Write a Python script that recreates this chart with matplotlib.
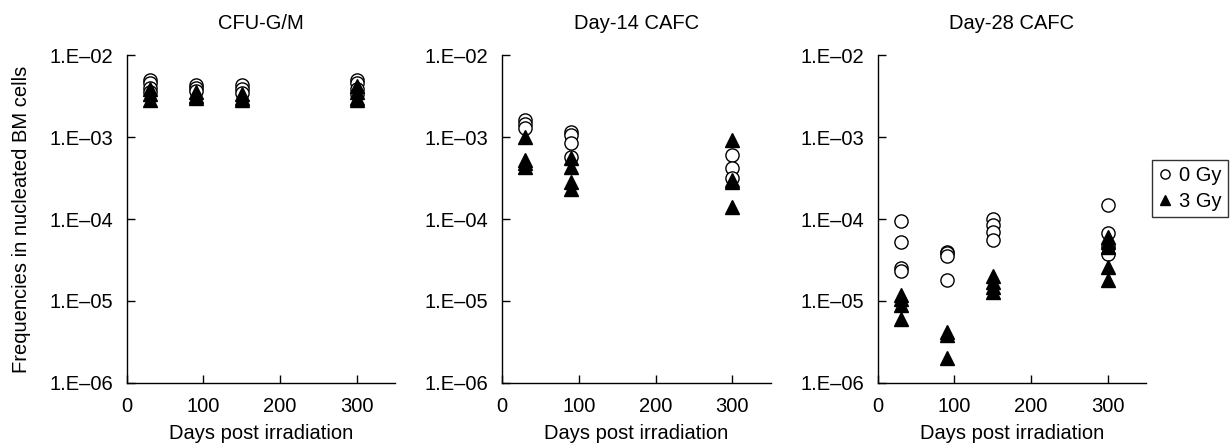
import math
import matplotlib
matplotlib.use("Agg")
import matplotlib.pyplot as plt
from matplotlib.ticker import FixedLocator, FuncFormatter, NullLocator

plt.rcParams['font.family'] = ['Liberation Sans', 'DejaVu Sans']
plt.rcParams['font.size'] = 14.5

# days post irradiation and frequencies per mouse, 0 Gy vs 3 Gy
cfu_days_0 = [30, 30, 30, 30, 90, 90, 90, 150, 150, 150, 300, 300, 300, 300]
cfu_vals_0 = [5.0e-3, 4.5e-3, 4.0e-3, 3.5e-3, 4.3e-3, 4.0e-3, 3.6e-3,
              4.3e-3, 3.8e-3, 3.4e-3, 5.0e-3, 4.5e-3, 3.8e-3, 3.3e-3]
cfu_days_3 = [30, 30, 30, 90, 90, 90, 150, 150, 150, 300, 300, 300, 300]
cfu_vals_3 = [3.8e-3, 3.3e-3, 2.8e-3, 3.5e-3, 3.2e-3, 3.0e-3,
              3.3e-3, 3.0e-3, 2.8e-3, 4.2e-3, 3.5e-3, 3.0e-3, 2.8e-3]

d14_days_0 = [30, 30, 30, 90, 90, 90, 90, 300, 300, 300]
d14_vals_0 = [1.6e-3, 1.45e-3, 1.3e-3, 1.15e-3, 1.05e-3, 8.4e-4, 5.7e-4,
              6.0e-4, 4.2e-4, 3.2e-4]
d14_days_3 = [30, 30, 30, 30, 90, 90, 90, 90, 300, 300, 300, 300]
d14_vals_3 = [1.0e-3, 5.3e-4, 4.8e-4, 4.3e-4, 5.5e-4, 4.3e-4, 2.8e-4, 2.3e-4,
              9.2e-4, 3.0e-4, 2.8e-4, 1.4e-4]

d28_days_0 = [30, 30, 30, 30, 90, 90, 90, 90, 150, 150, 150, 150,
              300, 300, 300, 300]
d28_vals_0 = [9.5e-5, 5.2e-5, 2.5e-5, 2.3e-5, 4.0e-5, 3.8e-5, 3.5e-5, 1.8e-5,
              1.0e-4, 8.5e-5, 7.0e-5, 5.5e-5, 1.5e-4, 6.7e-5, 4.7e-5, 3.7e-5]
d28_days_3 = [30, 30, 30, 30, 90, 90, 90, 150, 150, 150, 150,
              300, 300, 300, 300, 300]
d28_vals_3 = [1.2e-5, 1.05e-5, 9.0e-6, 6.0e-6, 4.2e-6, 3.8e-6, 2.0e-6,
              2.0e-5, 1.7e-5, 1.5e-5, 1.3e-5, 6.0e-5, 5.2e-5, 4.5e-5,
              2.6e-5, 1.8e-5]

titles = ["CFU-G/M", "Day-14 CAFC", "Day-28 CAFC"]
panels = [
    (cfu_days_0, cfu_vals_0, cfu_days_3, cfu_vals_3),
    (d14_days_0, d14_vals_0, d14_days_3, d14_vals_3),
    (d28_days_0, d28_vals_0, d28_days_3, d28_vals_3),
]
x_ticks = [0, 100, 200, 300]
y_ticks = [1e-6, 1e-5, 1e-4, 1e-3, 1e-2]


def sci_label(v, pos):
    exp = int(round(math.log10(v)))
    return "1.E\u2013%02d" % abs(exp)


fig = plt.figure(figsize=(12.31, 4.44), dpi=100)
lefts = [0.103, 0.408, 0.713]
for i, left in enumerate(lefts):
    ax = fig.add_axes([left, 0.1374, 0.218, 0.7387])
    d0, v0, d3, v3 = panels[i]
    ax.plot(d0, v0, linestyle="none", marker="o", ms=9.5, mfc="white",
            mec="black", mew=1.0, label="0 Gy", zorder=3)
    ax.plot(d3, v3, linestyle="none", marker="^", ms=9.5, mfc="black",
            mec="black", label="3 Gy", zorder=4)
    ax.set_yscale("log")
    ax.set_ylim(1e-6, 1e-2)
    ax.set_xlim(0, 350)
    ax.yaxis.set_major_locator(FixedLocator(y_ticks))
    ax.yaxis.set_minor_locator(NullLocator())
    ax.yaxis.set_major_formatter(FuncFormatter(sci_label))
    ax.set_xticks(x_ticks)
    for s in ["top", "right"]:
        ax.spines[s].set_visible(False)
    for s in ["left", "bottom"]:
        ax.spines[s].set_linewidth(1.0)
    ax.tick_params(direction="in", length=6, width=1.0, labelsize=14.5, pad=10)
    ax.set_title(titles[i], fontsize=14.5, pad=19)
    ax.set_xlabel("Days post irradiation", fontsize=14.5, labelpad=5.5)
    if i == 0:
        ax.set_ylabel("Frequencies in nucleated BM cells", fontsize=14.5,
                      labelpad=13)
    if i == 2:
        handles, labels = ax.get_legend_handles_labels()

leg = fig.legend(handles, labels, loc="lower right",
                 bbox_to_anchor=(0.9976, 0.511), frameon=True, fancybox=False,
                 edgecolor="black", fontsize=14.5, handlelength=0.7,
                 handletextpad=0.35, borderpad=0.3, labelspacing=0.35,
                 borderaxespad=0, markerscale=0.7)
leg.get_frame().set_linewidth(1.0)

fig.savefig("out.png", dpi=100)
